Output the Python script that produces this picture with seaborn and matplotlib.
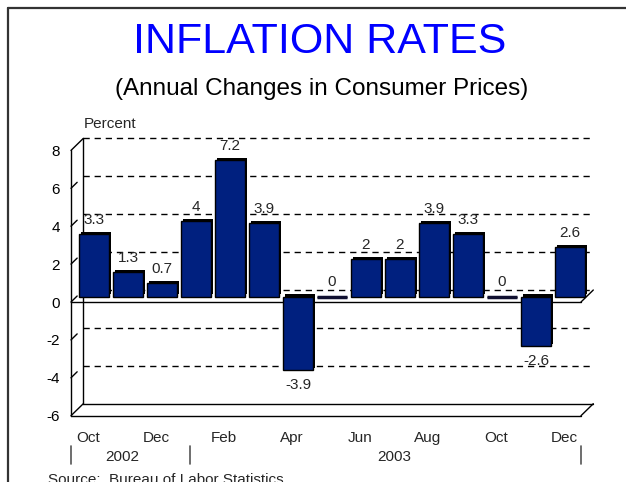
"""
Inflation rates (annual changes in consumer prices), Oct 2002 - Dec 2003.
Excel-style pseudo 3D bar chart rebuilt with seaborn + matplotlib.
"""
import matplotlib.pyplot as plt
import numpy as np
import pandas as pd
import seaborn as sns
from matplotlib.patheffects import Normal, SimplePatchShadow
from matplotlib.transforms import Affine2D, IdentityTransform

months = ["Oct", "Nov", "Dec", "Jan", "Feb", "Mar", "Apr", "May",
          "Jun", "Jul", "Aug", "Sep", "Oct", "Nov", "Dec"]
years = [2002, 2002, 2002] + [2003] * 12
rates = [3.3, 1.3, 0.7, 4.0, 7.2, 3.9, -3.9, 0.0, 2.0, 2.0, 3.9, 3.3, 0.0, -2.6, 2.6]
y_ticks = [-6, -4, -2, 0, 2, 4, 6, 8]
year_labels = ["2002", "2003"]
year_label_pos = [1, 9]
year_breaks = [-0.5, 3, 14.5]

BAR_COLOR = "#00207f"
W, H = 626, 482

sns.set_theme(style="white")
plt.rcParams["font.family"] = ["Liberation Sans", "DejaVu Sans"]

df = pd.DataFrame({
    "key": [f"{m} {y}" for m, y in zip(months, years)],
    "rate": rates,
})

fig = plt.figure(figsize=(W / 100, H / 100), dpi=100)
# bar plane: zero at y=296.5px, 18.95 px per percent, 34 px per month
ax = fig.add_axes([77 / W, (H - 410.2) / H, 510 / W, (410.2 - 144.9) / H])

sns.barplot(data=df, x="key", y="rate", order=df["key"], color=BAR_COLOR,
            saturation=1, width=0.88, edgecolor="black", linewidth=1,
            ax=ax, zorder=2)
for patch in ax.patches:
    patch.set_path_effects([SimplePatchShadow(offset=(1.5, 1.5), shadow_rgbFace="black", alpha=1),
                            Normal()])

# zero-height bars show up as a flat dark slab
zero_idx = [i for i, v in enumerate(rates) if v == 0]
ax.hlines([0] * len(zero_idx), [i - 0.44 for i in zero_idx], [i + 0.44 for i in zero_idx],
          colors="#101030", lw=2.5, zorder=2)

ax.set_xlim(-0.5, 14.5)
ax.set_ylim(-6, 8)
ax.axis("off")

front = ax.transData + Affine2D().translate(-6, -5.5)
back = ax.transData + Affine2D().translate(6.3, 6.5)
line_kw = dict(color="black", lw=1, clip_on=False)


def disp(x, v, plane):
    return plane.transform((x, v))


def connect(p0, p1, **kw):
    ax.plot([p0[0], p1[0]], [p0[1], p1[1]], transform=IdentityTransform(), **{**line_kw, **kw})


# back wall gridlines
for v in y_ticks[1:]:
    ax.plot([-0.5, 14.5], [v, v], transform=back, ls=(0, (4.5, 3.5)), zorder=0.5, **line_kw)
ax.plot([-0.5, 14.5], [-6, -6], transform=back, zorder=0.5, **line_kw)
ax.plot([-0.5, -0.5], [-6, 8], transform=back, zorder=0.5, **line_kw)

# front edges
ax.plot([-0.5, -0.5], [-6, 8], transform=front, zorder=3, **line_kw)
ax.plot([-0.5, 14.5], [-6, -6], transform=front, zorder=3, **line_kw)
ax.plot([-0.5, 14.5], [0, 0], transform=front, zorder=1, **line_kw)

# depth connectors
for x, v in [(-0.5, 8), (-0.5, -6), (14.5, 0), (14.5, -6)]:
    connect(disp(x, v, front), disp(x, v, back), zorder=1)
for v in y_ticks[1:-1]:
    p0 = disp(-0.5, v, front)
    p1 = disp(-0.5, v, back)
    connect(p0, p0 + 0.5 * (p1 - p0), zorder=1)

# y tick labels
for v in y_ticks:
    ax.text(-0.5, v, str(v), transform=front + Affine2D().translate(-11, -1.5),
            ha="right", va="center", fontsize=11, color="black")

# value labels
for i, v in enumerate(rates):
    if v >= 0:
        ax.annotate(f"{v:g}", (i, v), xytext=(0, 7.2), textcoords="offset points",
                    ha="center", va="baseline", fontsize=11)
    else:
        ax.annotate(f"{v:g}", (i, v), xytext=(0, -13.7), textcoords="offset points",
                    ha="center", va="baseline", fontsize=11)

# month labels on every other bar
for i in range(0, len(months), 2):
    ax.text(i, -6, months[i], transform=front + Affine2D().translate(0, -26),
            ha="center", va="baseline", fontsize=11)

# year labels and separators
for lab, x in zip(year_labels, year_label_pos):
    ax.text(x, -6, lab, transform=front + Affine2D().translate(0, -45.5),
            ha="center", va="baseline", fontsize=11)
for x in year_breaks:
    p = disp(x, -6, front)
    connect(p + np.array([0, -30]), p + np.array([0, -48]), color="#555555", lw=1.2)

# titles and notes
fig.text(320 / W, 1 - 53 / H, "INFLATION RATES", ha="center", va="baseline",
         fontsize=31, color="#0000ff")
fig.text(322 / W, 1 - 95 / H, "(Annual Changes in Consumer Prices)", ha="center",
         va="baseline", fontsize=17.5, color="black")
fig.text(84 / W, 1 - 128 / H, "Percent", ha="left", va="baseline", fontsize=11)
fig.text(48 / W, 1 - 484 / H, "Source:  Bureau of Labor Statistics", ha="left",
         va="baseline", fontsize=11)

# slide frame
fig.add_artist(plt.Line2D([8 / W, 8 / W], [0, 1 - 8 / H], transform=fig.transFigure,
                          color="#333333", lw=1.6))
fig.add_artist(plt.Line2D([8 / W, 1], [1 - 8 / H, 1 - 8 / H], transform=fig.transFigure,
                          color="#333333", lw=1.6))

fig.savefig("out.png", dpi=100, facecolor="white")
